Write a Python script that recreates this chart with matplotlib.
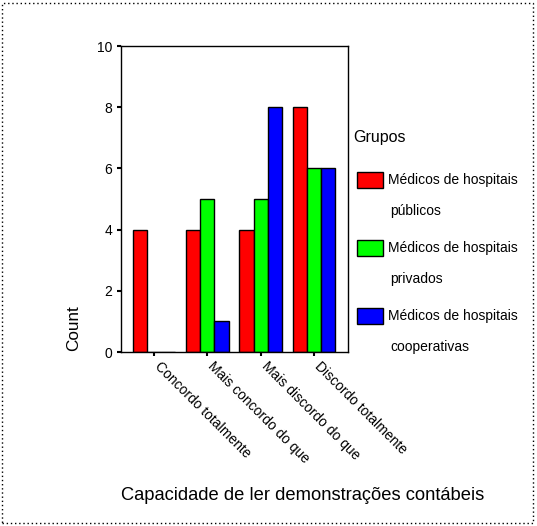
import numpy as np
import matplotlib
matplotlib.use("Agg")
import matplotlib.pyplot as plt
import matplotlib.transforms as mtransforms
from matplotlib.patches import Rectangle

plt.rcParams.update({
    "font.family": ["Liberation Sans", "DejaVu Sans"],
    "font.size": 10,
})

# ── Dados ─────────────────────────────────────────────────────────────────────
categorias = ["Concordo totalmente", "Mais concordo do que",
              "Mais discordo do que", "Discordo totalmente"]
publicos = [4, 4, 4, 8]
privados = [0, 5, 5, 6]
cooperativas = [0, 1, 8, 6]
grupos = ["Médicos de hospitais\npúblicos",
          "Médicos de hospitais\nprivados",
          "Médicos de hospitais\ncooperativas"]
cores = ["#FF0000", "#00FF00", "#0000FF"]
yticks = [0, 2, 4, 6, 8, 10]

# ── Figura ────────────────────────────────────────────────────────────────────
W, H = 537, 526
fig = plt.figure(figsize=(W / 100, H / 100), dpi=100)
ax = fig.add_axes([121 / W, 1 - 352 / H, (348 - 121) / W, (352 - 46) / H])

x = np.arange(len(categorias))
bw = 0.265
for i, (vals, cor) in enumerate(zip([publicos, privados, cooperativas], cores)):
    ax.bar(x + (i - 1) * bw, vals, width=bw, color=cor,
           edgecolor="black", linewidth=1.0)

ax.set_xlim(-0.62, 3.64)
ax.set_ylim(0, 10)
ax.set_yticks(yticks)
ax.set_xticks(x)
ax.set_xticklabels(categorias, rotation=-45, ha="left", va="top",
                   rotation_mode="anchor")
ax.tick_params(axis="both", direction="out", length=3, width=1.5, labelsize=10)
ax.tick_params(axis="x", pad=6)
desloc = mtransforms.ScaledTranslation(0.08, 0.05, fig.dpi_scale_trans)
for lab in ax.get_xticklabels():
    lab.set_transform(lab.get_transform() + desloc)
for s in ax.spines.values():
    s.set_linewidth(1.0)

fig.text(74 / W, 1 - 328 / H, "Count", rotation=90, ha="center", va="center",
         fontsize=12.3)
fig.text(303 / W, 1 - 496 / H, "Capacidade de ler demonstrações contábeis",
         ha="center", va="center", fontsize=13.2)

# ── Legenda ───────────────────────────────────────────────────────────────────
fig.text(353 / W, 1 - 137 / H, "Grupos", ha="left", va="center", fontsize=11.5)
for k, (lab, cor) in enumerate(zip(grupos, cores)):
    y0 = 180 + k * 68
    fig.patches.append(Rectangle((357 / W, 1 - (y0 + 8) / H), 26 / W, 16 / H,
                                 transform=fig.transFigure, facecolor=cor,
                                 edgecolor="black", linewidth=1.0))
    l1, l2 = lab.split("\n")
    fig.text(388 / W, 1 - y0 / H, l1, ha="left", va="center", fontsize=10)
    fig.text(390 / W, 1 - (y0 + 31) / H, l2, ha="left", va="center", fontsize=10)

# borda pontilhada
fig.patches.append(Rectangle((2 / W, 3 / H), (533 - 2) / W, (523 - 3) / H,
                             transform=fig.transFigure, fill=False,
                             edgecolor="black", linestyle=(0, (1, 2)),
                             linewidth=1.0))

fig.savefig("out.png", dpi=100)
